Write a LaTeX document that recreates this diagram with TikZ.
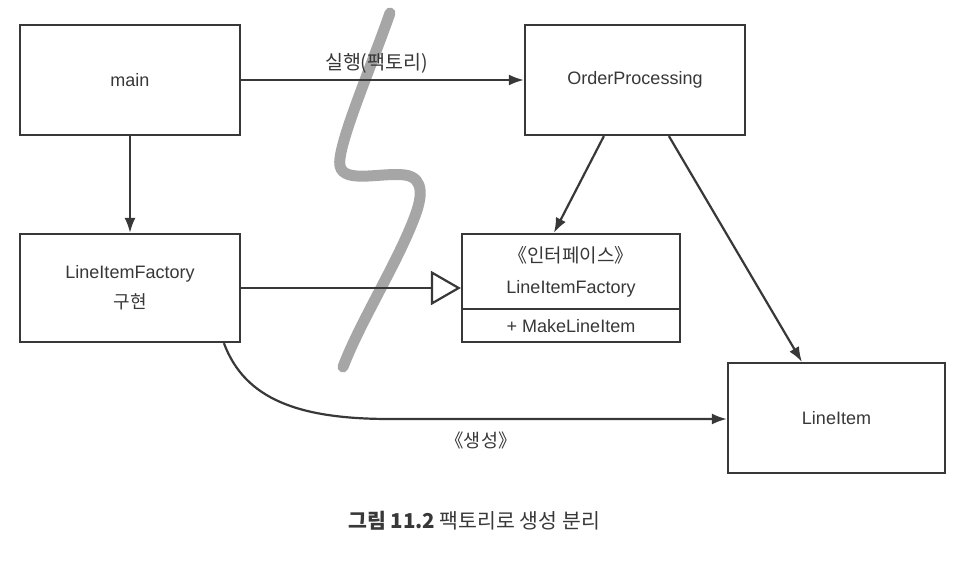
\documentclass[tikz,border=0pt]{standalone}
\usepackage{fontspec}
\setmainfont{Liberation Sans}
\newfontfamily\kr{Noto Sans CJK KR}
\usetikzlibrary{arrows.meta,calc}
\definecolor{ink}{HTML}{383838}
\definecolor{squig}{HTML}{A6A6A6}
\tikzset{
  box/.style={draw=ink, line width=2.2pt, fill=white, inner sep=0pt, text=ink, font=\fontsize{18}{30}\selectfont, align=center},
  conn/.style={draw=ink, line width=2.2pt, -{Latex[length=15pt,width=11pt]}},
  realize/.style={draw=ink, line width=2.2pt, -{Triangle[open,length=30pt,width=34pt,line width=2.2pt,fill=white]}},
  lbl/.style={text=ink, font=\fontsize{18}{20}\selectfont, inner sep=1pt},
}
\begin{document}
\begin{tikzpicture}[x=1pt,y=-1pt]
\useasboundingbox (0,0) rectangle (956,560);
% squiggle (behind)
\draw[squig, line width=11pt, line cap=round]
  (390,13) .. controls (372,65) and (336,148) .. (340,166)
  .. controls (344,184) and (382,172) .. (405,175)
  .. controls (426,178) and (421,200) .. (415,216)
  .. controls (398,262) and (360,322) .. (343,367);
% boxes
\node[box, minimum width=220pt, minimum height=110pt] (main) at (130,80) {main};
\node[box, minimum width=220pt, minimum height=110pt] (op) at (635,80) {OrderProcessing};
\node[box, minimum width=220pt, minimum height=108pt] (impl) at (130,288) {LineItemFactory\\{\kr 구현}};
\node[box, minimum width=218pt, minimum height=108pt] (iface) at (571,288) {};
\node[box, minimum width=217pt, minimum height=110pt] (item) at (836.5,418) {LineItem};
% interface contents
\coordinate (dl) at ($(iface.north west)+(0,76)$);
\coordinate (dr) at ($(iface.north east)+(0,76)$);
\draw[draw=ink, line width=2.2pt] (dl) -- (dr);
\node[lbl, font=\fontsize{19}{20}\selectfont] (stereo) at (571,255) {\kr 《인터페이스》};
\node[lbl] (ifname) at (571,289) {LineItemFactory};
\node[lbl] (op1) at (571,326) {+ MakeLineItem};
% connectors
\draw[conn] (main.east) -- (op.west) node[lbl, font=\fontsize{19.5}{20}\selectfont, midway, above=5pt, xshift=-6pt] (l1) {\kr 실행(팩토리)};
\draw[conn] (main.south) -- (impl.north);
\draw[realize] (impl.east) -- (impl.east -| iface.west);
\coordinate (opa) at ($(op.south west)+(80,0)$);
\coordinate (ifa) at ($(iface.north west)+(93,0)$);
\draw[conn] (opa) -- (ifa);
\coordinate (opb) at ($(op.south west)+(145,0)$);
\coordinate (itb) at ($(item.north west)+(75,0)$);
\draw[conn] (opb) -- (itb);
\coordinate (ims) at ($(impl.south west)+(205,0)$);
\coordinate (bend) at (390,419);
\draw[conn] (ims) .. controls (245,400) and (300,419) .. (bend) -- (bend -| item.west);
\node[lbl, font=\fontsize{18.5}{20}\selectfont] (l2) at (481,440) {\kr 《생성》};
% caption
\node[text=ink, font=\fontsize{20.5}{24}\selectfont\kr, inner sep=0pt] (cap) at (474,521) {\textbf{그림 11.2} 팩토리로 생성 분리};
\end{tikzpicture}
\end{document}
